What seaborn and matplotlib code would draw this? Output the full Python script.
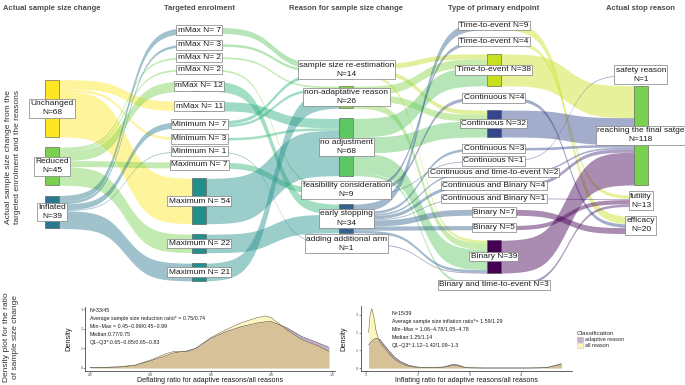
import numpy as np
import pandas as pd
import matplotlib.pyplot as plt
from matplotlib.patches import Rectangle, Patch
import seaborn as sns

# ---------------- sankey data ----------------
stage_titles = ["Actual sample size change", "Targeted enrolment",
                "Reason for sample size change", "Type of primary endpoint",
                "Actual stop reason"]

change_labels = ["Unchanged", "Reduced", "Inflated"]
change_n = [68, 45, 39]

target_labels = ["mMax", "mMax", "mMax", "mMax", "mMax", "mMax", "Minimum", "Minimum",
                 "Minimum", "Maximum", "Maximum", "Maximum", "Maximum"]
target_n = [7, 3, 2, 2, 12, 11, 7, 3, 1, 7, 54, 22, 21]

reason_labels = ["sample size re-estimation", "non-adaptative reason", "no adjustment",
                 "feasibility consideration", "early stopping", "adding additional arm"]
reason_n = [14, 26, 68, 9, 34, 1]

endpoint_labels = ["Time-to-event", "Time-to-event", "Time-to-event", "Continuous",
                   "Continuous", "Continuous", "Continuous", "Continuous and time-to-event",
                   "Continuous and Binary", "Continuous and Binary", "Binary", "Binary",
                   "Binary", "Binary and time-to-event"]
endpoint_n = [9, 4, 38, 4, 32, 3, 1, 2, 4, 1, 7, 5, 39, 3]

stop_labels = ["safety reason", "reaching the final satge", "futility", "efficacy"]
stop_n = [1, 118, 13, 20]

# flows: (source node, target node, trials)
flows_change_target = [(0, 5, 11), (0, 7, 3), (0, 10, 54),
                       (1, 2, 2), (1, 3, 2), (1, 4, 12), (1, 9, 7), (1, 11, 22),
                       (2, 0, 7), (2, 1, 3), (2, 6, 7), (2, 8, 1), (2, 12, 21)]
flows_target_reason = [(0, 0, 7), (1, 0, 3), (2, 1, 2), (3, 3, 2), (4, 4, 12), (5, 2, 11),
                       (6, 0, 4), (6, 1, 3), (7, 2, 3), (8, 5, 1), (9, 3, 7), (10, 2, 54),
                       (11, 4, 22), (12, 1, 21)]
flows_reason_endpoint = [(0, 2, 6), (0, 4, 5), (0, 12, 3),
                         (1, 2, 10), (1, 4, 8), (1, 12, 8),
                         (2, 2, 22), (2, 4, 19), (2, 12, 24), (2, 13, 3),
                         (3, 1, 4), (3, 3, 4), (3, 6, 1),
                         (4, 0, 9), (4, 5, 3), (4, 7, 2), (4, 8, 4), (4, 9, 1),
                         (4, 10, 7), (4, 11, 5), (4, 12, 3),
                         (5, 12, 1)]
flows_endpoint_stop = [(0, 3, 9), (1, 2, 4), (2, 1, 38), (3, 3, 4), (4, 1, 32), (5, 1, 3),
                       (6, 0, 1), (7, 1, 2), (8, 1, 4), (9, 2, 1), (10, 3, 7), (11, 2, 5),
                       (12, 1, 39), (13, 2, 3)]

# ---------------- density data ----------------
defl_x = [0.2, 0.25, 0.3, 0.35, 0.4, 0.45, 0.48, 0.52, 0.55, 0.6, 0.65, 0.7, 0.75,
          0.78, 0.8, 0.85, 0.9, 0.95, 0.99]
defl_all = [0.02, 0.03, 0.06, 0.15, 0.4, 0.72, 0.85, 0.83, 1.0, 1.55, 1.95, 2.3, 2.55,
            2.65, 2.55, 1.95, 1.45, 1.15, 0.85]
defl_adaptive = [0.02, 0.03, 0.05, 0.13, 0.36, 0.62, 0.78, 0.86, 1.0, 1.5, 1.85, 2.1, 2.28,
                 2.35, 2.36, 2.05, 1.6, 1.3, 1.05]

infl_x = [1.05, 1.08, 1.11, 1.15, 1.2, 1.27, 1.35, 1.45, 1.55, 1.65, 1.8, 1.95, 2.1, 2.3,
          2.5, 2.6, 2.7, 2.8, 2.9, 3.0, 3.3, 3.7, 4.1, 4.4, 4.55, 4.65, 4.72, 4.78]
infl_all = [2.0, 3.0, 3.35, 2.9, 2.0, 1.45, 1.15, 0.8, 0.5, 0.3, 0.12, 0.05, 0.03, 0.02,
            0.04, 0.1, 0.17, 0.12, 0.04, 0.01, 0.0, 0.0, 0.0, 0.01, 0.05, 0.12, 0.17, 0.2]
infl_adaptive = [1.3, 1.4, 1.5, 1.62, 1.68, 1.6, 1.3, 0.95, 0.62, 0.4, 0.18, 0.07, 0.03, 0.03,
                 0.06, 0.14, 0.22, 0.15, 0.05, 0.01, 0.0, 0.0, 0.0, 0.01, 0.06, 0.14, 0.2, 0.24]

defl_notes = ["N=33/45", "Average sample size reduction ratio* = 0.75/0.74",
              "Min~Max = 0.45~0.99/0.45~0.99", "Median:0.77/0.75",
              "Q1~Q3*:0.65~0.85/0.65~0.83"]
infl_notes = ["N=15/39", "Average sample size inflation ratio*= 1.59/1.29",
              "Min~Max = 1.06~4.78/1.05~4.78", "Median:1.25/1.14",
              "Q1~Q3*:1.12~1.42/1.09~1.3"]
class_labels = ["adaptive reason", "all reason"]

# ---------------- styles ----------------
change_colors = ["#FDE725", "#7AD151", "#2A788E"]
target_colors = ["#5DC863", "#5DC863", "#7AD151", "#7AD151", "#35B779", "#29AF7F",
                 "#29AF7F", "#35B779", "#2A788E", "#35B779", "#21908C", "#21908C", "#21908C"]
reason_colors = ["#C2DF23", "#86D549", "#5DC863", "#3B528B", "#33638D", "#482878"]
endpoint_colors = ["#C8E020", "#C8E020", "#C8E020", "#34478A", "#34478A", "#34478A",
                   "#34478A", "#3E4A89", "#472C7A", "#472C7A", "#440154", "#440154",
                   "#440154", "#482173"]
stop_colors = ["#B5DE2B", "#7AD151", "#3B528B", "#440154"]
class_colors = ["#440154", "#FDE725"]

GAP = 12.5
NODE_W = 0.095
FLOW_ALPHA = 0.45

sns.set_theme(style="white")
plt.rcParams["font.family"] = ["Liberation Sans", "DejaVu Sans"]

fig = plt.figure(figsize=(6.85, 3.85), dpi=100)

# ---------------- sankey ----------------
ax = fig.add_axes([0, 1 - 300 / 385, 1, 300 / 385])
ax.set_xlim(0.647, 5.299)
ax.set_ylim(173.8, -183.3)
ax.axis("off")

columns = [
    (change_n, ["%s\nN=%d" % (l, n) for l, n in zip(change_labels, change_n)], change_colors),
    (target_n, ["%s N= %d" % (l, n) for l, n in zip(target_labels, target_n)], target_colors),
    (reason_n, ["%s\nN=%d" % (l, n) for l, n in zip(reason_labels, reason_n)], reason_colors),
    (endpoint_n, ["%s N=%d" % (l, n) for l, n in zip(endpoint_labels, endpoint_n)], endpoint_colors),
    (stop_n, ["%s\nN=%d" % (l, n) for l, n in zip(stop_labels, stop_n)], stop_colors),
]
all_flows = [flows_change_target, flows_target_reason, flows_reason_endpoint, flows_endpoint_stop]


def stack(ns):
    total = sum(ns) + GAP * (len(ns) - 1)
    tops, y = [], -total / 2
    for n in ns:
        tops.append(y)
        y += n + GAP
    return tops


tops = [stack(c[0]) for c in columns]

k = 6
tt = np.linspace(-k, k, 80)
sig = 1 / (1 + np.exp(-tt))
sig = (sig - sig[0]) / (sig[-1] - sig[0])

for i, flows in enumerate(all_flows):
    cur = list(tops[i])
    out_pos = {}
    for s, t, v in sorted(flows, key=lambda f: (f[0], f[1])):
        out_pos[(s, t)] = cur[s]
        cur[s] += v
    cur = list(tops[i + 1])
    in_pos = {}
    for s, t, v in sorted(flows, key=lambda f: (f[1], f[0])):
        in_pos[(s, t)] = cur[t]
        cur[t] += v
    x0, x1 = i + 1 + NODE_W / 2, i + 2 - NODE_W / 2
    xs = np.linspace(x0, x1, 80)
    for s, t, v in flows:
        y0, y1 = out_pos[(s, t)], in_pos[(s, t)]
        ytop = y0 + (y1 - y0) * sig
        ax.fill_between(xs, ytop, ytop + v, color=columns[i][2][s], alpha=FLOW_ALPHA, lw=0)

for c, (ns, labels, colors) in enumerate(columns):
    for top, n, lab, col in zip(tops[c], ns, labels, colors):
        ax.add_patch(Rectangle((c + 1 - NODE_W / 2, top), NODE_W, n, fc=col,
                               ec="#4d4d4d", lw=0.4, zorder=3))
        ax.text(c + 1, top + n / 2, lab, ha="center", va="center", fontsize=6,
                linespacing=1.45, color="#1a1a1a", zorder=4,
                bbox=dict(boxstyle="square,pad=0.15", fc="white", ec="#7f7f7f", lw=0.5))
    ax.text(c + 1, 0.97, stage_titles[c], transform=ax.get_xaxis_transform(),
            ha="center", va="center", fontsize=5.5, fontweight="bold", color="#4d4d4d")

fig.text(13 / 685, 1 - 157 / 385,
         "Actual sample size change from the\ntargeted enrolment and the reasons",
         rotation=90, ha="center", va="center", fontsize=6, color="#333333",
         linespacing=1.4)
fig.text(11 / 685, 1 - 337 / 385, "Density plot for the ratio\nof sample size change",
         rotation=90, ha="center", va="center", fontsize=6, color="#333333",
         linespacing=1.4)

# ---------------- density panels ----------------
defl = pd.DataFrame({"x": defl_x * 2, "density": defl_adaptive + defl_all,
                     "Classification": [class_labels[0]] * len(defl_x) + [class_labels[1]] * len(defl_x)})
infl = pd.DataFrame({"x": infl_x * 2, "density": infl_adaptive + infl_all,
                     "Classification": [class_labels[0]] * len(infl_x) + [class_labels[1]] * len(infl_x)})

ax1 = fig.add_axes([85 / 685, 1 - 370.5 / 385, 250 / 685, 63.8 / 385])
ax2 = fig.add_axes([360.7 / 685, 1 - 370.5 / 385, 211 / 685, 64.5 / 385])

panels = [(ax1, defl, (0.1835, 1.01), (-0.13, 3.12), [0.2, 0.4, 0.6, 0.8, 1.0],
           ["0.2", "0.4", "0.6", "0.8", "1.0"],
           "Deflating ratio for adaptive reasons/all reasons", defl_notes, (0.02, 0.985)),
          (ax2, infl, (0.897, 4.98), (-0.14, 3.5), [1, 2, 3, 4], ["1", "2", "3", "4"],
           "Inflating ratio for adaptive reasons/all reasons", infl_notes, (0.148, 0.93))]

for a, df, xl, yl, xt, xtl, xlab, notes, pos in panels:
    for lab, col in zip(class_labels, class_colors):
        d = df[df["Classification"] == lab]
        a.fill_between(d["x"], 0, d["density"], color=col, alpha=0.3, lw=0)
    sns.lineplot(data=df, x="x", y="density", hue="Classification",
                 palette=["#4a3a55", "#6e6a3a"], lw=0.4, ax=a, legend=False)
    a.set_xlim(*xl)
    a.set_ylim(*yl)
    a.set_xticks(xt)
    a.set_xticklabels(xtl)
    a.set_yticks([0, 1, 2, 3])
    a.tick_params(axis="both", labelsize=2.5, length=1.2, width=0.4, pad=0.6,
                  colors="#4d4d4d", left=True, bottom=True)
    for sp in ["top", "right"]:
        a.spines[sp].set_visible(False)
    for sp in ["left", "bottom"]:
        a.spines[sp].set_linewidth(0.5)
        a.spines[sp].set_color("#222222")
    a.set_xlabel(xlab, fontsize=5, color="#1a1a1a")
    a.xaxis.set_label_coords(0.5, -0.095)
    a.set_ylabel("Density", fontsize=5.3, labelpad=6, color="#1a1a1a")
    a.text(pos[0], pos[1], "\n".join(notes), transform=a.transAxes, ha="left", va="top",
           fontsize=3.8, linespacing=1.75, color="#1a1a1a")

handles = [Patch(fc=c, alpha=0.3, ec="#555555", lw=0.4) for c in class_colors]
leg = fig.legend(handles, class_labels, title="Classification", loc="upper left",
                 bbox_to_anchor=(572 / 685, 1 - 326 / 385), frameon=False, fontsize=4,
                 title_fontsize=4.6, handlelength=1.0, handleheight=1.0,
                 labelspacing=0.15, handletextpad=0.4, alignment="left")

fig.savefig("out.png", dpi=100)
